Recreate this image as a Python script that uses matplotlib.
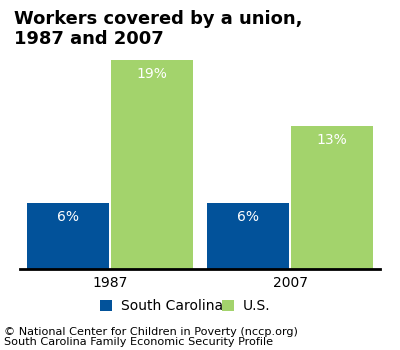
import matplotlib
matplotlib.use("Agg")
import matplotlib.pyplot as plt
import numpy as np

# data
years = ["1987", "2007"]
south_carolina = [6, 6]
us = [19, 13]
series_names = ["South Carolina", "U.S."]
colors = ["#02529a", "#a3d36c"]

plt.rcParams['font.family'] = ['DejaVu Sans']

fig = plt.figure(figsize=(4, 3.5), dpi=100)
ax = fig.add_axes([0.05, 0.2314, 0.9, 0.626])

x = np.arange(len(years))
w = 0.456
off = 0.2333
b1 = ax.bar(x - off, south_carolina, w, color=colors[0], label=series_names[0])
b2 = ax.bar(x + off, us, w, color=colors[1], label=series_names[1])

for bars, vals in ((b1, south_carolina), (b2, us)):
    for b, v in zip(bars, vals):
        ax.annotate(f"{v}%", (b.get_x() + b.get_width() / 2, v),
                    xytext=(0, -14), textcoords="offset pixels",
                    ha="center", va="center", color="white", fontsize=10)

ax.set_xlim(-0.5, 1.5)
ax.set_ylim(0, 19.9)
ax.set_xticks(x)
ax.set_xticklabels(years, fontsize=10)
ax.tick_params(axis="x", length=0, pad=5)
ax.set_yticks([])
for s in ["top", "right", "left"]:
    ax.spines[s].set_visible(False)
ax.spines["bottom"].set_linewidth(2)
ax.spines["bottom"].set_color("black")

# title
fig.text(14 / 400, 1 - 19 / 350, "Workers covered by a union,", fontsize=12.9,
         fontweight="bold", va="center", ha="left")
fig.text(14 / 400, 1 - 39 / 350, "1987 and 2007", fontsize=12.9,
         fontweight="bold", va="center", ha="left")

# legend
ax.legend(loc="center left", bbox_to_anchor=(100 / 400, 1 - 306 / 350),
          bbox_transform=fig.transFigure, ncol=2, frameon=False,
          fontsize=10, handlelength=0.86, handleheight=0.86, handletextpad=0.65,
          columnspacing=-0.1, borderaxespad=0, borderpad=0)

# footer
fig.text(4 / 400, 1 - 332 / 350, "© National Center for Children in Poverty (nccp.org)",
         fontsize=8.1, va="center", ha="left")
fig.text(4 / 400, 1 - 342 / 350, "South Carolina Family Economic Security Profile",
         fontsize=8.1, va="center", ha="left")

fig.savefig("out.png", dpi=100)
